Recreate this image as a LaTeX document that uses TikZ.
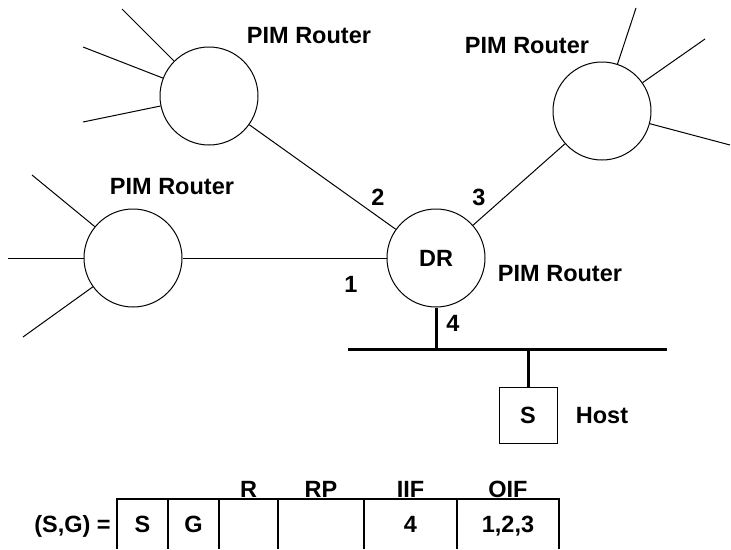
\documentclass[tikz,border=0pt]{standalone}
\usepackage{fontspec}
\setmainfont{Liberation Sans}
\begin{document}
\begin{tikzpicture}[x=1pt,y=-1pt,
  router/.style={circle,draw,line width=1pt,minimum size=98pt,inner sep=0pt,font=\fontsize{23.5}{28}\selectfont\bfseries},
  link/.style={line width=1pt},
  busline/.style={line width=3pt},
  tabline/.style={line width=1.2pt},
  lbl/.style={anchor=base,inner sep=0pt,font=\fontsize{23.5}{28}\selectfont\bfseries},
  hostbox/.style={draw,line width=1pt,minimum width=58pt,minimum height=56pt,inner sep=0pt,font=\fontsize{23.5}{28}\selectfont\bfseries}
]
\useasboundingbox (0,0) rectangle (731,549);

% routers
\node[router] (tl) at (209,96) {};
\node[router] (tr) at (602,111) {};
\node[router] (lf) at (133,258) {};
\node[router] (dr) at (436,258) {DR};

% spokes
\coordinate (tla) at (122,9);
\coordinate (tlb) at (83,47);
\coordinate (tlc) at (83,122);
\coordinate (tra) at (636,8);
\coordinate (trb) at (705,39);
\coordinate (trc) at (730,145);
\coordinate (lfa) at (32,175);
\coordinate (lfb) at (8,258);
\coordinate (lfc) at (23,337);
\foreach \n in {tla,tlb,tlc} \draw[link] (tl) -- (\n);
\foreach \n in {tra,trb,trc} \draw[link] (tr) -- (\n);
\foreach \n in {lfa,lfb,lfc} \draw[link] (lf) -- (\n);

% links to DR
\draw[link] (tl) -- (dr);
\draw[link] (tr) -- (dr);
\draw[link] (lf) -- (dr);

% LAN
\coordinate (busL) at (348,349);
\coordinate (busR) at (667,349);
\coordinate (tapA) at (436,349);
\coordinate (tapB) at (528,349);
\node[hostbox] (host) at (528,415) {S};
\draw[busline] (busL) -- (busR);
\draw[busline] (dr.south) -- (tapA);
\draw[busline] (tapB) -- (host.north);

% labels
\node[lbl] (ltl) at (309,43) {PIM Router};
\node[lbl] (ltr) at (527,53) {PIM Router};
\node[lbl] (llf) at (172,194) {PIM Router};
\node[lbl] (ldr) at (560,281) {PIM Router};
\node[lbl] (p2) at (378,205) {2};
\node[lbl] (p3) at (479,205) {3};
\node[lbl] (p1) at (351,292) {1};
\node[lbl] (p4) at (453,331) {4};
\node[lbl] (lhost) at (602,423) {Host};

% table
\draw[tabline] (117,549) -- (117,499) -- (559,499) -- (559,549);
\foreach \x in {168,219,278,364,457} \draw[tabline] (\x,499) -- (\x,549);
\node[lbl] (sg) at (72.5,532) {(S,G) =};
\node[lbl] (cs) at (142.5,532) {S};
\node[lbl] (cg) at (193.5,532) {G};
\node[lbl] (ciif) at (410.5,532) {4};
\node[lbl] (coif) at (508,532) {1,2,3};
\node[lbl] (hr) at (248.5,497) {R};
\node[lbl] (hrp) at (321,497) {RP};
\node[lbl] (hiif) at (410.5,497) {IIF};
\node[lbl] (hoif) at (508,497) {OIF};
\end{tikzpicture}
\end{document}
